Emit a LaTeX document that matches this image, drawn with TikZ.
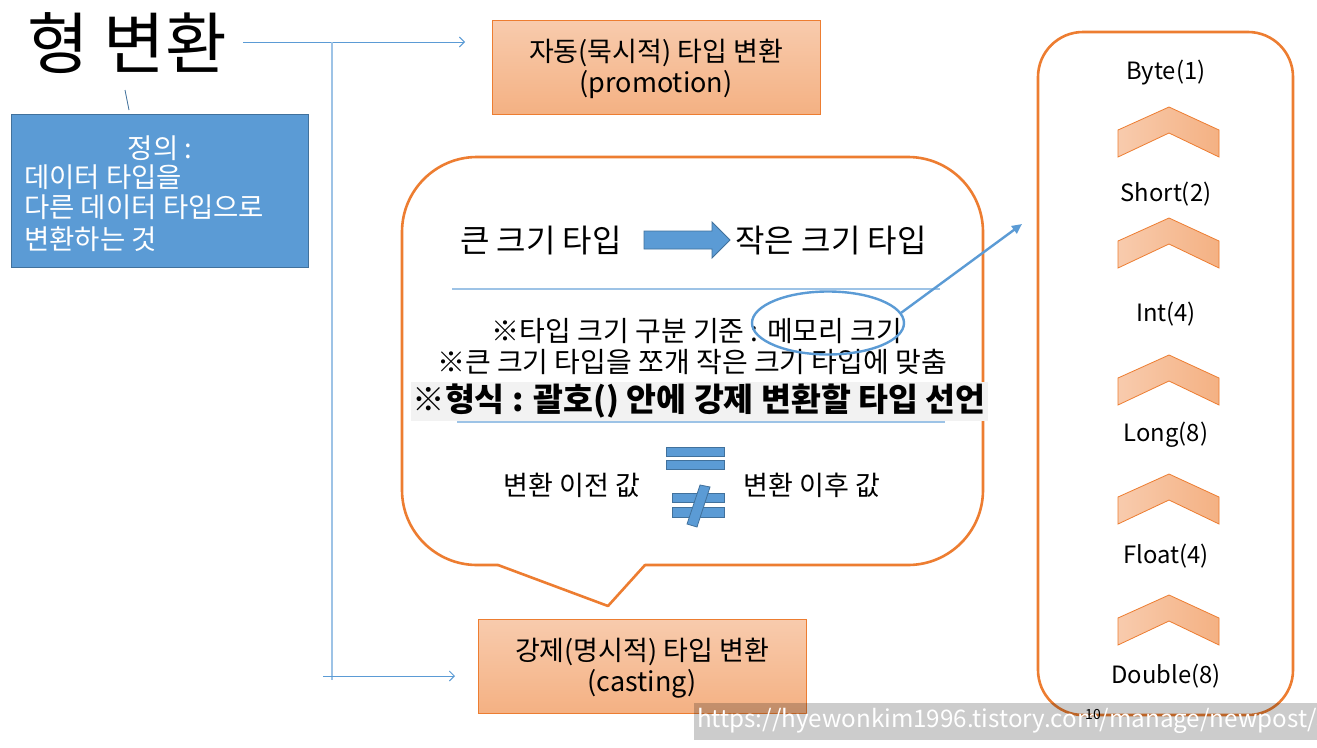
\documentclass[tikz,border=0pt]{standalone}
\usepackage{fontspec}
\newfontfamily\kr{Noto Sans CJK KR}
\usetikzlibrary{arrows.meta,shapes.geometric}
\definecolor{obl}{HTML}{5B9BD5}
\definecolor{obld}{HTML}{41719C}
\definecolor{org}{HTML}{ED7D31}
\definecolor{ogl}{HTML}{F8CBAD}
\definecolor{ogd}{HTML}{F4B183}
\definecolor{lnb}{HTML}{9DC3E6}
\definecolor{bandg}{HTML}{F2F2F2}
\newcommand{\fsb}[2]{\fontsize{#1pt}{#2pt}\selectfont}
\begin{document}
\begin{tikzpicture}[x=1pt,y=-1pt,
  every node/.style={font=\kr, inner sep=0pt},
  titletext/.style={font=\kr\fsb{67}{70}},
  defbox/.style={draw=obld, fill=obl, line width=1pt, minimum width=297pt, minimum height=153pt},
  deftext/.style={font=\kr\fsb{27.5}{30}, text=white},
  ctbox/.style={draw=org, top color=ogl, bottom color=ogd, line width=1pt,
    minimum width=328pt, minimum height=94pt},
  cttext/.style={align=center, font=\kr\fsb{27}{31}},
  conn/.style={draw=obl, line width=0.9pt},
  connv/.style={draw=lnb, line width=1.2pt},
  opentip/.style={-{Straight Barb[length=5pt,width=10pt]}},
  bigtext/.style={font=\kr\fsb{32}{34}},
  midtext/.style={font=\kr\fsb{28}{30}},
  boldtext/.style={font=\kr\bfseries\fsb{32.5}{34}},
  valtext/.style={font=\kr\fsb{27}{30}},
  sizelabel/.style={font=\kr\fsb{23.8}{26}},
  bluefill/.style={fill=obl, draw=obld, line width=0.8pt},
  sepline/.style={draw=lnb, line width=1.4pt},
  orangeline/.style={draw=org, line width=2.6pt, line cap=round, line join=round},
  chev/.style={draw=org, line width=0.8pt, left color=ogl, right color=ogd}
]
\useasboundingbox (0,0) rectangle (1317,747);
\fill[white] (0,0) rectangle (1317,747);

% title and definition
\node[titletext] (title) at (127,43) {형 변환};
\node[defbox] (def) at (159.5,190.5) {};
\node[deftext] (d0) at (160,148) {정의 :};
\node[deftext, anchor=west] (d1) at (24,177) {데이터 타입을};
\node[deftext, anchor=west] (d2) at (24,207) {다른 데이터 타입으로};
\node[deftext, anchor=west] (d3) at (24,239) {변환하는 것};
\coordinate (tl0) at (125,90);
\coordinate (tl1) at (129,110);
\draw[draw=obld, line width=0.8pt] (tl0) -- (tl1);

% two conversion boxes
\node[ctbox] (auto) at (656,67) {};
\node[cttext] (autot) at (656,69) {자동(묵시적) 타입 변환\\(promotion)};
\node[ctbox] (cast) at (642,666) {};
\node[cttext] (castt) at (642,668) {강제(명시적) 타입 변환\\(casting)};

% connectors
\coordinate (h0) at (243,42);
\coordinate (h1) at (465,42);
\coordinate (v0) at (332,42);
\coordinate (v1) at (332,680);
\coordinate (b0) at (323,676);
\coordinate (b1) at (455,676);
\draw[conn, opentip] (h0) -- (h1);
\draw[connv] (v0) -- (v1);
\draw[conn, opentip] (b0) -- (b1);

% callout
\draw[orangeline, rounded corners=75pt] (645,565) -- (983,565) -- (983,157) -- (402,157) -- (402,565) -- (498,565);
\draw[orangeline] (498,565) -- (608,606) -- (645,565);

% inside the callout
\node[bigtext] (big) at (541,241) {큰 크기 타입};
\node[bigtext] (small) at (831,241) {작은 크기 타입};
\path[bluefill] (644,231) -- (712,231) -- (712,222) -- (730,240) -- (712,258) -- (712,249) -- (644,249) -- cycle;
\coordinate (s1a) at (452,289);
\coordinate (s1b) at (940,289);
\draw[sepline] (s1a) -- (s1b);
\node[midtext] (crit) at (697,331) {※타입 크기 구분 기준 : 메모리 크기};
\node[midtext] (fit) at (692,362) {※큰 크기 타입을 쪼개 작은 크기 타입에 맞춤};
\fill[bandg] (411,382) rectangle (988,421);
\node[boldtext] (form) at (699,401) {※형식 : 괄호() 안에 강제 변환할 타입 선언};
\coordinate (s2a) at (457,422);
\coordinate (s2b) at (945,422);
\draw[sepline] (s2a) -- (s2b);
\node[valtext] (before) at (572,485) {변환 이전 값};
\node[valtext] (after) at (812,485) {변환 이후 값};
\path[bluefill] (666,447) rectangle (724,456);
\path[bluefill] (666,460) rectangle (724,469);
\path[bluefill] (672,493) rectangle (724,502);
\path[bluefill] (672,507) rectangle (724,517);
\path[bluefill] (700,485) -- (710,487) -- (697,527) -- (687,524) -- cycle;

% ellipse and pointer
\node[ellipse, draw=obl, line width=2.4pt, minimum width=152pt, minimum height=63pt] (memo) at (828,323) {};
\coordinate (ptr) at (1022,224);
\draw[draw=obl, line width=2.4pt, -{Triangle[length=10pt,width=9pt]}] (memo.8) -- (ptr);

% right panel
\node[draw=org, line width=2.6pt, rounded corners=45pt, minimum width=255pt, minimum height=683pt] (panel) at (1165.5,373.5) {};
\node[sizelabel] (byte) at (1166,73) {Byte(1)};
\node[sizelabel] (short) at (1166,194) {Short(2)};
\node[sizelabel] (int) at (1166,314) {Int(4)};
\node[sizelabel] (long) at (1166,435) {Long(8)};
\node[sizelabel] (float) at (1166,556) {Float(4)};
\node[sizelabel] (double) at (1166,676) {Double(8)};
\foreach \cy in {107,218,355,474,595} {
  \path[chev] (1118,\cy+23) -- (1169,\cy) -- (1219,\cy+23) -- (1219,\cy+50) -- (1169,\cy+26) -- (1118,\cy+50) -- cycle;
}

% watermark
\begin{scope}
\clip (0,0) rectangle (1317,747);
\fill[black, opacity=0.2] (694,703) rectangle (1330,740);
\node[font=\kr\fsb{24.2}{26}, text=white, anchor=west] (url) at (697,721) {https://hyewonkim1996.tistory.com/manage/newpost/3};
\node[font=\kr\fsb{14}{16}] (pnum) at (1093,714) {10};
\end{scope}
\end{tikzpicture}
\end{document}
